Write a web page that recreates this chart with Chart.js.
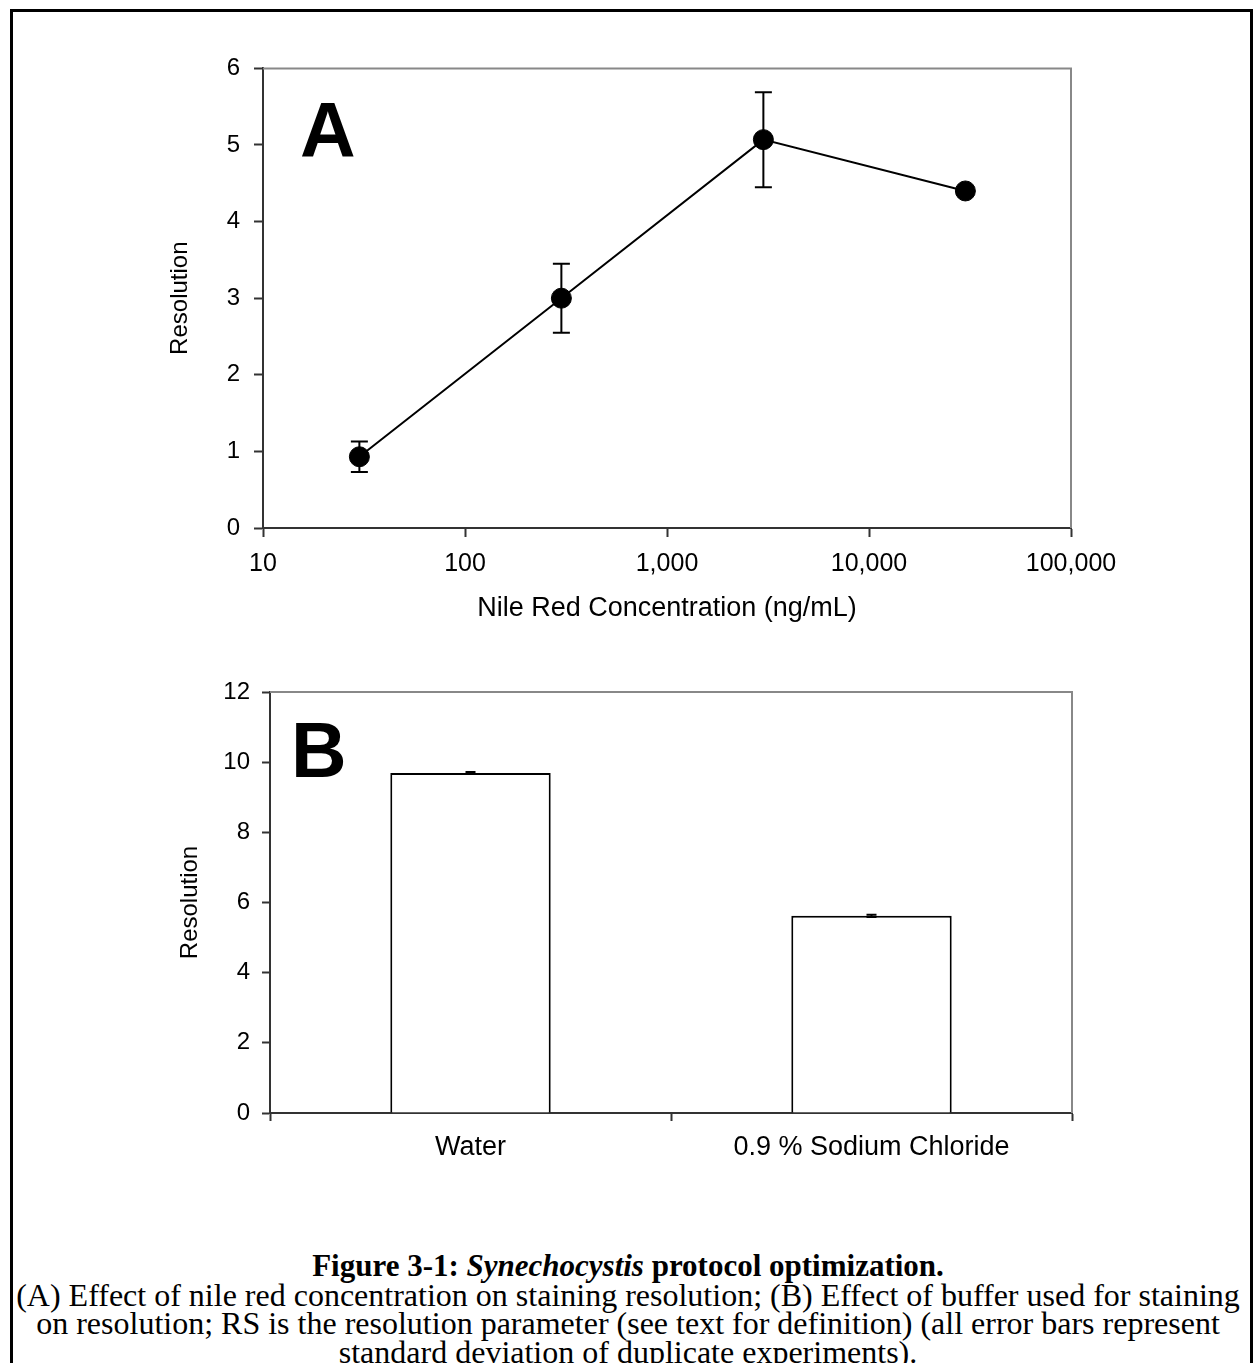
<!DOCTYPE html>
<html>
<head>
<meta charset="utf-8">
<title>Synechocystis protocol optimization</title>
<script src="https://cdn.jsdelivr.net/npm/chart.js@4.4.1/dist/chart.umd.min.js"></script>
<style>
  html, body { margin: 0; padding: 0; background: #fff; }
  body { width: 1254px; height: 1363px; position: relative; overflow: hidden; }
  .frame {
    position: absolute; left: 10px; top: 9px; width: 1243px; height: 1370px;
    border: 3px solid #000; box-sizing: border-box;
  }
  .panel { position: absolute; left: 140px; width: 990px; }
  #panelA { top: 40px; height: 620px; }
  #panelB { top: 660px; height: 530px; }
  .letter {
    position: absolute; color: #000;
    font: bold 77px/77px 'Liberation Sans', Arial, sans-serif;
  }
  .caption {
    position: absolute; left: 0; width: 1256px; top: 1252px;
    text-align: center; white-space: nowrap; color: #000;
    font-family: 'Liberation Serif', 'Times New Roman', serif;
  }
  .caption div { height: 28.5px; line-height: 28.5px; font-size: 32px; }
  .caption div.head { font-size: 31px; font-weight: bold; }
</style>
</head>
<body>
<div class="frame"></div>

<div class="panel" id="panelA"><canvas id="chartA"></canvas></div>
<div class="panel" id="panelB"><canvas id="chartB"></canvas></div>
<div class="letter" style="left:300px; top:92px;">A</div>
<div class="letter" style="left:291px; top:712px;">B</div>

<div class="caption">
  <div class="head">Figure 3-1: <i>Synechocystis</i> protocol optimization.</div>
  <div>(A) Effect of nile red concentration on staining resolution; (B) Effect of buffer used for staining</div>
  <div>on resolution; RS is the resolution parameter (see text for definition) (all error bars represent</div>
  <div>standard deviation of duplicate experiments).</div>
</div>

<script>
// Panel A: nile red concentration series (mean and SD)
const concentrations = [30, 300, 3000, 30000];
const resolutionA = [0.93, 3.0, 5.07, 4.40];
const errorA = [0.2, 0.45, 0.62, 0];
const concTicks = [10, 100, 1000, 10000, 100000];

// Panel B: staining buffer
const buffers = ['Water', '0.9 % Sodium Chloride'];
const resolutionB = [9.69, 5.62];
const errorB = [0.03, 0.03];

Chart.defaults.font.family = "'Liberation Sans', Arial, sans-serif";
Chart.defaults.color = '#000';

// grey top and right edges of the plot box
const frameEdges = {
    id: 'frameEdges',
    beforeDatasetsDraw(chart) {
        const { ctx, chartArea: { top, right, bottom, left } } = chart;
        ctx.save();
        ctx.strokeStyle = '#888';
        ctx.lineWidth = 2;
        ctx.beginPath();
        ctx.moveTo(left, top);
        ctx.lineTo(right, top);
        ctx.lineTo(right, bottom);
        ctx.stroke();
        ctx.restore();
    }
};

// vertical error bars with caps, +/- SD around each value
const errorBars = {
    id: 'errorBars',
    afterDatasetsDraw(chart, args, opts) {
        const { ctx } = chart;
        const yScale = chart.scales.y;
        const meta = chart.getDatasetMeta(0);
        const values = chart.data.datasets[0].data;
        ctx.save();
        ctx.strokeStyle = '#000';
        ctx.lineWidth = opts.lineWidth || 2;
        meta.data.forEach((el, i) => {
            const err = opts.errors[i];
            if (!err) return;
            const v = typeof values[i] === 'object' ? values[i].y : values[i];
            const yHi = yScale.getPixelForValue(v + err);
            const yLo = yScale.getPixelForValue(v - err);
            const half = opts.capWidth / 2;
            ctx.beginPath();
            ctx.moveTo(el.x, yHi);
            ctx.lineTo(el.x, yLo);
            ctx.moveTo(el.x - half, yHi);
            ctx.lineTo(el.x + half, yHi);
            ctx.moveTo(el.x - half, yLo);
            ctx.lineTo(el.x + half, yLo);
            ctx.stroke();
        });
        ctx.restore();
    }
};

const axisBorder = { color: '#333', width: 2 };

new Chart(document.getElementById('chartA'), {
    type: 'line',
    data: {
        datasets: [{
            data: concentrations.map((c, i) => ({ x: c, y: resolutionA[i] })),
            borderColor: '#000',
            borderWidth: 2,
            tension: 0,
            pointRadius: 10,
            pointHoverRadius: 10,
            pointBackgroundColor: '#000',
            pointBorderColor: '#000',
            pointBorderWidth: 1
        }]
    },
    options: {
        responsive: true,
        maintainAspectRatio: false,
        animation: false,
        events: [],
        layout: { padding: { top: 25, right: 59, left: 0, bottom: 0 } },
        plugins: {
            legend: { display: false },
            tooltip: { enabled: false },
            errorBars: { errors: errorA, capWidth: 17, lineWidth: 2 }
        },
        scales: {
            x: {
                type: 'logarithmic',
                min: 10,
                max: 100000,
                afterBuildTicks: (axis) => { axis.ticks = concTicks.map(v => ({ value: v })); },
                afterFit: (axis) => { axis.height = 132; },
                ticks: {
                    font: { size: 25 },
                    padding: 12,
                    maxRotation: 0,
                    autoSkip: false,
                    callback: (v) => Number(v).toLocaleString('en-US')
                },
                grid: { drawOnChartArea: false, tickLength: 9, tickColor: '#333', tickWidth: 2 },
                border: axisBorder,
                title: {
                    display: true,
                    text: 'Nile Red Concentration (ng/mL)',
                    font: { size: 27 },
                    padding: { top: 0, bottom: 35 }
                }
            },
            y: {
                min: 0,
                max: 6,
                afterFit: (axis) => { axis.width = 123; },
                ticks: { stepSize: 1, font: { size: 24 }, padding: 14 },
                grid: { drawOnChartArea: false, tickLength: 9, tickColor: '#333', tickWidth: 2 },
                border: axisBorder,
                title: {
                    display: true,
                    text: 'Resolution',
                    font: { size: 24 },
                    padding: { top: 26, bottom: 0 }
                }
            }
        }
    },
    plugins: [frameEdges, errorBars]
});

new Chart(document.getElementById('chartB'), {
    type: 'bar',
    data: {
        labels: buffers,
        datasets: [{
            data: resolutionB,
            backgroundColor: '#fff',
            borderColor: '#000',
            borderWidth: 2,
            categoryPercentage: 1,
            barPercentage: 0.4
        }]
    },
    options: {
        responsive: true,
        maintainAspectRatio: false,
        animation: false,
        events: [],
        layout: { padding: { top: 32, right: 58, left: 0, bottom: 0 } },
        plugins: {
            legend: { display: false },
            tooltip: { enabled: false },
            errorBars: { errors: errorB, capWidth: 10, lineWidth: 2 }
        },
        scales: {
            x: {
                afterFit: (axis) => { axis.height = 77; },
                ticks: { font: { size: 27 }, padding: 10, maxRotation: 0 },
                grid: { drawOnChartArea: false, tickLength: 8, tickColor: '#333', tickWidth: 2 },
                border: axisBorder
            },
            y: {
                min: 0,
                max: 12,
                afterFit: (axis) => { axis.width = 130; },
                ticks: { stepSize: 2, font: { size: 24 }, padding: 12 },
                grid: { drawOnChartArea: false, tickLength: 8, tickColor: '#333', tickWidth: 2 },
                border: axisBorder,
                title: {
                    display: true,
                    text: 'Resolution',
                    font: { size: 24 },
                    padding: { top: 36, bottom: 0 }
                }
            }
        }
    },
    plugins: [frameEdges, errorBars]
});
</script>
</body>
</html>
